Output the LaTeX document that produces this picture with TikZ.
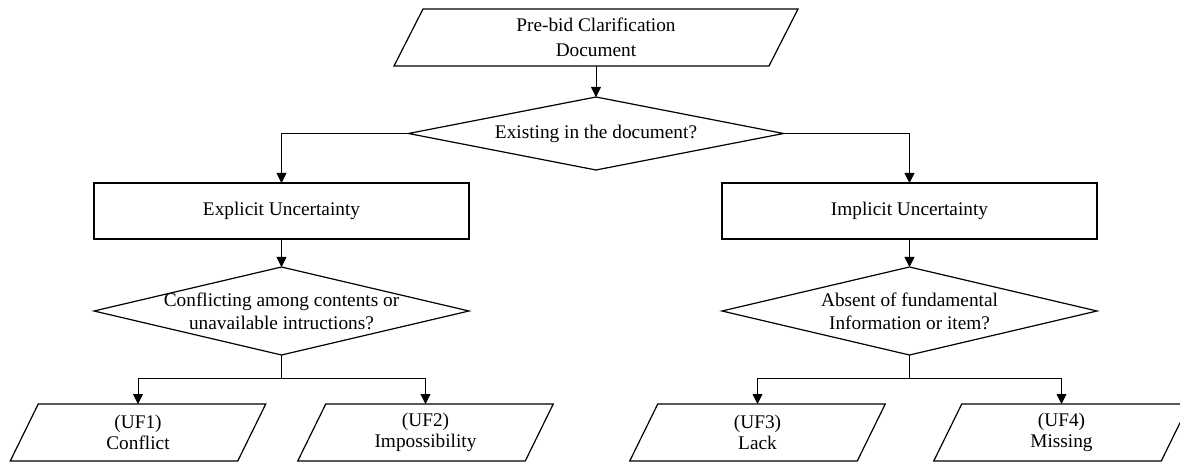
\documentclass[tikz,border=0pt]{standalone}
\usepackage{fontspec}
\setmainfont{Liberation Serif}
\usetikzlibrary{shapes.geometric,arrows.meta}
\tikzset{
  shapeline/.style={draw=black,line width=1.2pt},
  conn/.style={draw=black,line width=0.8pt},
  arr/.style={conn,-{Triangle[length=10pt,width=10pt]}},
  txt/.style={font=\fontsize{19.3}{23}\selectfont,align=center,inner sep=0pt,outer sep=0pt},
  parabody/.style={rectangle,minimum height=57pt,inner sep=0pt,outer sep=0pt,txt},
  boxnode/.style={rectangle,shapeline,minimum width=375pt,minimum height=56pt,inner sep=0pt,outer sep=0pt,txt},
  decision/.style={diamond,shapeline,inner sep=0pt,outer sep=0pt,minimum width=375pt},
}
\newcommand{\drawpara}[2]{%
  \draw[shapeline] ([xshift=#2]#1.north west) -- ([xshift=#2]#1.north east)
    -- ([xshift=-#2]#1.south east) -- ([xshift=-#2]#1.south west) -- cycle;}
\begin{document}
\begin{tikzpicture}[x=1pt,y=-1pt]
\useasboundingbox (0,0) rectangle (1180,462);
% top input
\node[parabody,minimum width=375pt,font=\fontsize{19.3}{25}\selectfont] (pb) at (596,37.5) {Pre-bid Clarification\\Document};
\drawpara{pb}{14.5pt}
% first decision
\node[decision,minimum height=73pt] (d1) at (596,133.5) {};
\node[txt] (d1t) at (d1.center) {Existing in the document?};
% boxes
\node[boxnode] (e) at (281.5,211) {Explicit Uncertainty};
\node[boxnode] (i) at (909.5,211) {Implicit Uncertainty};
% second decisions
\node[decision,minimum height=88pt] (d2) at (281.5,311) {};
\node[txt] (d2t) at (d2.center) {Conflicting among contents or\\unavailable intructions?};
\node[decision,minimum height=88pt] (d3) at (909.5,311) {};
\node[txt] (d3t) at (d3.center) {Absent of fundamental\\Information or item?};
% outputs
\node[parabody,minimum width=227.5pt,font=\fontsize{19.3}{21}\selectfont] (uf1) at (138,432.5) {(UF1)\\Conflict};
\node[parabody,minimum width=227.5pt,font=\fontsize{19.3}{21}\selectfont] (uf2) at (425.5,432.5) {(UF2)\\Impossibility};
\node[parabody,minimum width=227.5pt,font=\fontsize{19.3}{21}\selectfont] (uf3) at (757.5,432.5) {(UF3)\\Lack};
\node[parabody,minimum width=227.5pt,font=\fontsize{19.3}{21}\selectfont] (uf4) at (1061.5,432.5) {(UF4)\\Missing};
\drawpara{uf1}{14pt}
\drawpara{uf2}{14pt}
\drawpara{uf3}{14pt}
\drawpara{uf4}{14pt}
% connectors
\draw[arr] (pb.south) -- (d1.north);
\draw[arr] (d1.west) -| (e.north);
\draw[arr] (d1.east) -| (i.north);
\draw[arr] (e.south) -- (d2.north);
\draw[arr] (i.south) -- (d3.north);
\draw[conn] (d2.south) -- ++(0,23) coordinate (b2);
\draw[arr] (b2) -| (uf1.north);
\draw[arr] (b2) -| (uf2.north);
\draw[conn] (d3.south) -- ++(0,23) coordinate (b3);
\draw[arr] (b3) -| (uf3.north);
\draw[arr] (b3) -| (uf4.north);
\end{tikzpicture}
\end{document}
